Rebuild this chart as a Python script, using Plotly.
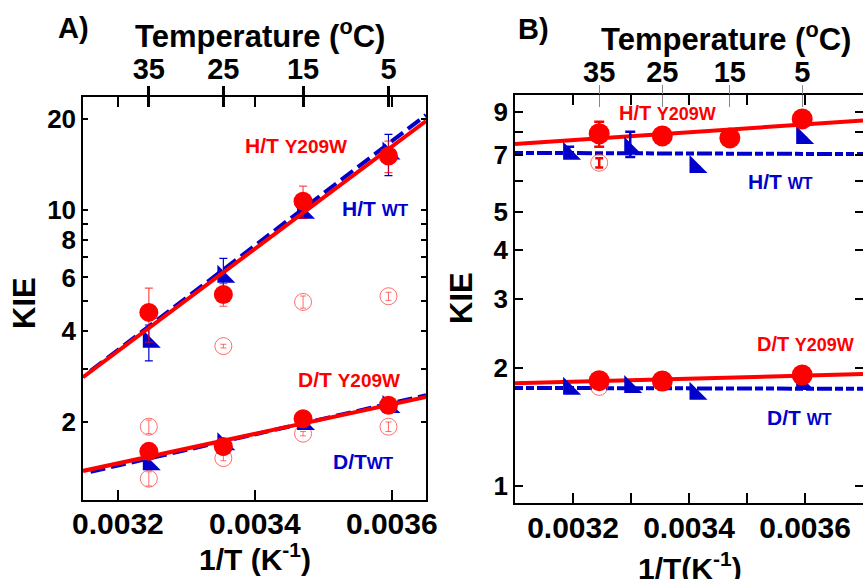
import plotly.graph_objects as go

# ---------------- data ----------------
# Panel A (temperatures in deg C; x = 1/T in K^-1)
temps_A = [35, 25, 15, 5]
ht_y209w_A = [4.6, 5.27, 10.7, 15.1]
ht_y209w_A_err = [0.93, 0.45, 1.3, 1.8]
ht_wt_A = [3.68, 6.03, 9.8, 15.4]
ht_wt_A_err = [0.5, 0.9, 0.4, 2.4]
dt_y209w_A = [1.60, 1.66, 2.05, 2.27]
dt_wt_A = [1.45, 1.69, 1.97, 2.24]

open_ht_T_A = [25, 15, 5]
open_ht_A = [3.56, 4.98, 5.2]
open_ht_A_err = [0.05, 0.23, 0.16]
open_dt_T_A = [35, 35, 25, 15, 5]
open_dt_A = [1.93, 1.30, 1.52, 1.83, 1.93]
open_dt_A_err = [0.1, 0.07, 0.03, 0.03, 0.07]

# fit lines (end points, 1/T)
fit_x_A = [0.003149, 0.00365]
fit_wt_x_A = [0.00316, 0.00365]
ht_y209w_fit_A = [2.81, 19.7]
ht_wt_fit_A = [2.95, 20.6]
dt_y209w_fit_A = [1.379, 2.42]
dt_wt_fit_A = [1.37, 2.45]

# Panel B
temps_B_mut = [35, 25, 15, 5]
ht_y209w_B = [7.91, 7.81, 7.72, 8.63]
ht_y209w_B_err = [0.58, 0, 0, 0]
temps_B_mut_dt = [35, 25, 5]
dt_y209w_B = [1.857, 1.853, 1.92]
temps_B_wt = [40, 30, 20, 5]
ht_wt_B = [7.03, 7.24, 6.51, 7.72]
ht_wt_B_err_plus = [0.3, 0.76, 0, 0]
ht_wt_B_err_minus = [0.0, 0.34, 0, 0]
dt_wt_B = [1.77, 1.79, 1.72, 1.82]
open_T_B = [35, 35]
open_B = [6.67, 1.79]
open_B_err = [0.18, 0.0]

fit_x_B = [0.0031, 0.0037]
ht_y209w_fit_B = [7.45, 8.55]
ht_wt_fit_B = [7.07, 7.02]
dt_y209w_fit_B = [1.83, 1.93]
dt_wt_fit_B = [1.78, 1.77]

temp_ticks = [35, 25, 15, 5]
invT_ticks_A = [0.0032, 0.0034, 0.0036]
invT_ticks_B = [0.0032, 0.0033, 0.0034, 0.0035, 0.0036]
invT_labels_B = ["0.0032", "", "0.0034", "", "0.0036"]
kie_ticks_A = [2, 3, 4, 5, 6, 7, 8, 9, 10, 20]
kie_labels_A = ["2", "", "4", "", "6", "", "8", "", "10", "20"]
kie_ticks_B = [1, 2, 3, 4, 5, 6, 7, 8, 9]
kie_labels_B = ["1", "2", "3", "4", "5", "", "7", "", "9"]


def inv(tc):
    return [1.0 / (t + 273.15) for t in tc]


RED = "#ff0000"
BLUE = "#0000cc"
PINK = "rgba(255,60,60,0.75)"
FONT = "Liberation Sans"
W, H = 863, 579


def px(x):
    return x / W


def py(y):
    return 1 - y / H


fig = go.Figure()

# ---------------- Panel A traces ----------------
A = dict(xaxis="x", yaxis="y")
fig.add_trace(go.Scatter(x=fit_wt_x_A, y=ht_wt_fit_A, mode="lines",
                         line=dict(color=BLUE, width=4, dash="15px,6px"), **A))
fig.add_trace(go.Scatter(x=fit_wt_x_A, y=dt_wt_fit_A, mode="lines",
                         line=dict(color=BLUE, width=4, dash="15px,6px"), **A))
fig.add_trace(go.Scatter(x=inv(open_ht_T_A), y=open_ht_A, mode="markers",
                         marker=dict(symbol="circle-open", size=17, color=PINK, line=dict(width=1)),
                         error_y=dict(type="data", array=open_ht_A_err, color=PINK, thickness=1, width=3), **A))
fig.add_trace(go.Scatter(x=inv(open_dt_T_A), y=open_dt_A, mode="markers",
                         marker=dict(symbol="circle-open", size=17, color=PINK, line=dict(width=1)),
                         error_y=dict(type="data", array=open_dt_A_err, color=PINK, thickness=1, width=3), **A))
fig.add_trace(go.Scatter(x=inv(temps_A), y=ht_wt_A, mode="markers",
                         marker=dict(symbol="triangle-sw", size=20, color=BLUE),
                         error_y=dict(type="data", array=ht_wt_A_err, color=BLUE, thickness=1.2, width=4), **A))
fig.add_trace(go.Scatter(x=inv(temps_A), y=dt_wt_A, mode="markers",
                         marker=dict(symbol="triangle-sw", size=20, color=BLUE), **A))
fig.add_trace(go.Scatter(x=fit_x_A, y=ht_y209w_fit_A, mode="lines",
                         line=dict(color=RED, width=4), **A))
fig.add_trace(go.Scatter(x=fit_x_A, y=dt_y209w_fit_A, mode="lines",
                         line=dict(color=RED, width=4), **A))
fig.add_trace(go.Scatter(x=inv(temps_A), y=ht_y209w_A, mode="markers",
                         marker=dict(symbol="circle", size=19, color=RED),
                         error_y=dict(type="data", array=ht_y209w_A_err, color="rgba(255,0,0,0.7)", thickness=1.2, width=4), **A))
fig.add_trace(go.Scatter(x=inv(temps_A), y=dt_y209w_A, mode="markers",
                         marker=dict(symbol="circle", size=19, color=RED), **A))

# ---------------- Panel B traces ----------------
B = dict(xaxis="x4", yaxis="y3")
dashB = "8px,3px,8px,3px,15px,3px"
fig.add_trace(go.Scatter(x=fit_x_B, y=ht_wt_fit_B, mode="lines",
                         line=dict(color=BLUE, width=4, dash=dashB), **B))
fig.add_trace(go.Scatter(x=fit_x_B, y=dt_wt_fit_B, mode="lines",
                         line=dict(color=BLUE, width=4, dash=dashB), **B))
fig.add_trace(go.Scatter(x=inv(open_T_B), y=open_B, mode="markers",
                         marker=dict(symbol="circle-open", size=17, color=PINK, line=dict(width=1)),
                         error_y=dict(type="data", array=open_B_err, color=RED, thickness=2.5, width=4), **B))
fig.add_trace(go.Scatter(x=fit_x_B, y=ht_y209w_fit_B, mode="lines",
                         line=dict(color=RED, width=4), **B))
fig.add_trace(go.Scatter(x=fit_x_B, y=dt_y209w_fit_B, mode="lines",
                         line=dict(color=RED, width=4), **B))
fig.add_trace(go.Scatter(x=inv(temps_B_wt), y=ht_wt_B, mode="markers",
                         marker=dict(symbol="triangle-sw", size=20, color=BLUE),
                         error_y=dict(type="data", array=ht_wt_B_err_plus, arrayminus=ht_wt_B_err_minus,
                                      color=BLUE, thickness=2.5, width=5), **B))
fig.add_trace(go.Scatter(x=inv(temps_B_wt), y=dt_wt_B, mode="markers",
                         marker=dict(symbol="triangle-sw", size=20, color=BLUE), **B))
fig.add_trace(go.Scatter(x=inv(temps_B_mut), y=ht_y209w_B, mode="markers",
                         marker=dict(symbol="circle", size=21, color=RED),
                         error_y=dict(type="data", array=ht_y209w_B_err, color=RED, thickness=2.5, width=5), **B))
fig.add_trace(go.Scatter(x=inv(temps_B_mut_dt), y=dt_y209w_B, mode="markers",
                         marker=dict(symbol="circle", size=21, color=RED), **B))

# invisible carrier traces so that the overlaying (tick-only) axes get drawn
for xa, ya, xs, ys in [("x2", "y", fit_x_A, ht_y209w_fit_A), ("x3", "y", fit_x_A, ht_y209w_fit_A),
                       ("x", "y2", fit_x_A, ht_y209w_fit_A),
                       ("x5", "y3", fit_x_B, ht_y209w_fit_B), ("x6", "y3", fit_x_B, ht_y209w_fit_B),
                       ("x4", "y4", fit_x_B, ht_y209w_fit_B)]:
    fig.add_trace(go.Scatter(x=xs, y=ys, xaxis=xa, yaxis=ya, mode="lines", opacity=0,
                             line=dict(width=0), hoverinfo="skip"))

# ---------------- axes ----------------
domA_x = [px(83), px(426)]
domA_y = [py(500), py(97)]
domB_x = [px(515), 1.0]
domB_y = [py(503), py(95)]
rngA_x = [0.003149, 0.00365]
rngA_y = [0.0436, 1.3736]
rngB_x = [0.0031, 0.0037]
rngB_y = [-0.043, 0.997]

bold = dict(family=FONT, color="black", weight="bold")
common = dict(showgrid=False, zeroline=False, linecolor="black", tickcolor="black", automargin=False)
common_g = dict(showgrid=False, zeroline=False, tickcolor="#888888", automargin=False)

fig.update_layout(
    # Panel A
    xaxis=dict(domain=domA_x, anchor="y", range=rngA_x, tickmode="array",
               tickvals=invT_ticks_A, ticktext=[f"{v:.4f}" for v in invT_ticks_A],
               ticks="inside", ticklen=10, tickwidth=1.5, showline=True, linewidth=1.5, mirror=True,
               ticklabelstandoff=-4, tickfont=dict(size=30, **bold), **common),
    xaxis2=dict(overlaying="x", side="top", anchor="y", range=rngA_x, tickmode="array",
                tickvals=inv(temp_ticks), ticktext=[str(t) for t in temp_ticks],
                ticks="outside", ticklen=10, tickwidth=2.5, showline=False, ticklabelstandoff=-5,
                minor=dict(tickmode="array", tickvals=invT_ticks_A, ticks="inside", ticklen=10,
                           tickwidth=1.5, tickcolor="black"),
                tickfont=dict(size=29, **bold), **common),
    xaxis3=dict(overlaying="x", side="top", anchor="y", range=rngA_x, tickmode="array",
                tickvals=inv(temp_ticks), ticks="inside", ticklen=10, tickwidth=2.5,
                showticklabels=False, showline=False, **common),
    yaxis=dict(domain=domA_y, anchor="x", type="log", range=rngA_y, tickmode="array",
               tickvals=kie_ticks_A, ticktext=kie_labels_A, ticks="inside", ticklen=5, tickwidth=1.5,
               showline=True, linewidth=1.5, mirror=True, tickfont=dict(size=26, **bold), **common),
    yaxis2=dict(overlaying="y", side="right", anchor="x", type="log", range=rngA_y, tickmode="array",
                tickvals=kie_ticks_A, ticks="inside", ticklen=5, tickwidth=1.5,
                showticklabels=False, showline=False, **common),
    # Panel B
    xaxis4=dict(domain=domB_x, anchor="y3", range=rngB_x, tickmode="array",
                tickvals=invT_ticks_B, ticktext=invT_labels_B,
                ticks="inside", ticklen=10, tickwidth=1.5, showline=True, linewidth=1.5, mirror=True,
                ticklabelstandoff=-3, tickfont=dict(size=30, **bold), **common),
    xaxis5=dict(overlaying="x4", side="top", anchor="y3", range=rngB_x, tickmode="array",
                tickvals=inv(temp_ticks), ticktext=[str(t) for t in temp_ticks],
                ticks="outside", ticklen=9, tickwidth=1, showline=False, ticklabelstandoff=-9,
                minor=dict(tickmode="array", tickvals=invT_ticks_B, ticks="inside", ticklen=10,
                           tickwidth=1.5, tickcolor="black"),
                tickfont=dict(size=29, **bold), **common_g),
    xaxis6=dict(overlaying="x4", side="top", anchor="y3", range=rngB_x, tickmode="array",
                tickvals=inv(temp_ticks), ticks="inside", ticklen=12, tickwidth=1,
                showticklabels=False, showline=False, **common_g),
    yaxis3=dict(domain=domB_y, anchor="x4", type="log", range=rngB_y, tickmode="array",
                tickvals=kie_ticks_B, ticktext=kie_labels_B, ticks="inside", ticklen=8, tickwidth=1.5,
                showline=True, linewidth=1.5, mirror=False, tickfont=dict(size=26, **bold), **common),
    yaxis4=dict(overlaying="y3", side="right", anchor="x4", type="log", range=rngB_y, tickmode="array",
                tickvals=kie_ticks_B, ticks="inside", ticklen=8, tickwidth=1.5,
                showticklabels=False, showline=False, **common),
)


def label(x, y, text, size, color="black", angle=0):
    fig.add_annotation(x=px(x), y=py(y), xref="paper", yref="paper", text=text,
                       showarrow=False, xanchor="center", yanchor="middle", textangle=angle,
                       font=dict(family=FONT, size=size, color=color, weight="bold"))


# panel letters and axis titles
label(73, 28, "A)", 29)
label(533, 29, "B)", 29)
label(260, 34, "Temperature (<sup>o</sup>C)", 31)
label(726, 37, "Temperature (<sup>o</sup>C)", 31)
label(255, 557, "1/T (K<sup>-1</sup>)", 30)
label(690, 566, "1/T(K<sup>-1</sup>)", 30)
label(24, 303, "KIE", 31, angle=-90)
label(461, 298, "KIE", 31, angle=-90)


# series labels
def series(x, y, a, b, color, sa=19, sb=16, sep=" "):
    label(x, y, f"{a}{sep}<span style='font-size:{sb}px'>{b}</span>", sa, color)


series(296, 146, "H/T", "Y209W", RED, 21, 19)
series(375, 208, "H/T", "WT", BLUE, 21, 17)
series(349, 379, "D/T", "Y209W", RED, 21, 19)
series(363, 461, "D/T", "WT", BLUE, 21, 17, sep="")
series(667, 113, "H/T", "Y209W", RED, 20, 18)
series(780, 182, "H/T", "WT", BLUE, 21, 16)
series(805, 344, "D/T", "Y209W", RED, 20, 18)
series(799, 417, "D/T", "WT", BLUE, 21, 16)

fig.update_layout(width=W, height=H, autosize=False, margin=dict(l=0, r=0, t=0, b=0, pad=0),
                  paper_bgcolor="white", plot_bgcolor="white", showlegend=False,
                  font=dict(family=FONT))

fig.write_html("out.html", config={"displayModeBar": False},
               post_script="document.body.style.margin='0px';document.body.style.overflow='hidden';")
